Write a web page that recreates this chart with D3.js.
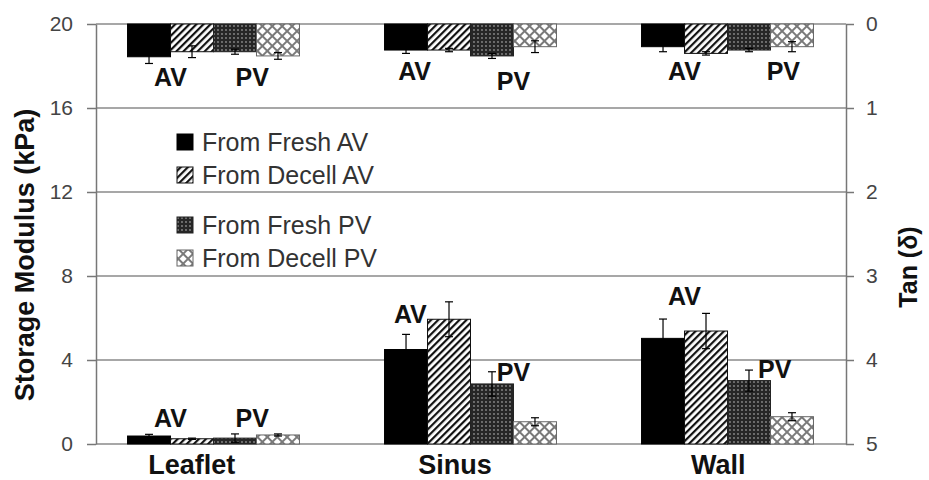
<!DOCTYPE html>
<html>
<head>
<meta charset="utf-8">
<script src="https://cdn.jsdelivr.net/npm/d3@7"></script>
<style>
body { margin: 0; background: #fff; }
svg { font-family: "Liberation Sans", Arial, sans-serif; }
</style>
</head>
<body>
<svg width="929" height="480"></svg>
<script>
var categories = ["Leaflet", "Sinus", "Wall"];
var seriesNames = ["From Fresh AV", "From Decell AV", "From Fresh PV", "From Decell PV"];

// storage modulus (kPa), bottom bars, per category
var modFreshAV = [0.38, 4.50, 5.03];
var modDecellAV = [0.25, 5.94, 5.38];
var modFreshPV = [0.28, 2.86, 3.02];
var modDecellPV = [0.43, 1.06, 1.30];
var modErrFreshAV = [0.08, 0.72, 0.92];
var modErrDecellAV = [0.03, 0.83, 0.84];
var modErrFreshPV = [0.20, 0.58, 0.50];
var modErrDecellPV = [0.05, 0.19, 0.19];

// tan delta, top bars hanging from 0
var tanFreshAV = [0.39, 0.31, 0.27];
var tanDecellAV = [0.33, 0.31, 0.35];
var tanFreshPV = [0.33, 0.38, 0.31];
var tanDecellPV = [0.38, 0.27, 0.27];
var tanErrFreshAV = [0.08, 0.04, 0.06];
var tanErrDecellAV = [0.07, 0.02, 0.02];
var tanErrFreshPV = [0.03, 0.03, 0.02];
var tanErrDecellPV = [0.04, 0.07, 0.06];

var modTicks = [0, 4, 8, 12, 16, 20];
var tanTicks = [0, 1, 2, 3, 4, 5];

// AV / PV labels: [category, text, slot (in bar widths), value]
var tanLabels = [
    ["Leaflet", "AV", 1.0, 0.74], ["Leaflet", "PV", 2.9, 0.74],
    ["Sinus", "AV", 0.7, 0.67], ["Sinus", "PV", 3.0, 0.79],
    ["Wall", "AV", 1.0, 0.67], ["Wall", "PV", 3.3, 0.67]
];
var modLabels = [
    ["Leaflet", "AV", 1.0, 0.81], ["Leaflet", "PV", 2.9, 0.81],
    ["Sinus", "AV", 0.6, 5.76], ["Sinus", "PV", 3.0, 3.0],
    ["Wall", "AV", 1.0, 6.62], ["Wall", "PV", 3.1, 3.14]
];

var modVals = [modFreshAV, modDecellAV, modFreshPV, modDecellPV];
var modErrs = [modErrFreshAV, modErrDecellAV, modErrFreshPV, modErrDecellPV];
var tanVals = [tanFreshAV, tanDecellAV, tanFreshPV, tanDecellPV];
var tanErrs = [tanErrFreshAV, tanErrDecellAV, tanErrFreshPV, tanErrDecellPV];

function buildRows(vals, errs) {
    var rows = [];
    categories.forEach(function(c, ci) {
        seriesNames.forEach(function(s, si) {
            rows.push({cat: c, series: s, si: si, v: vals[si][ci], e: errs[si][ci]});
        });
    });
    return rows;
}

var svg = d3.select("svg");
var plotL = 96, plotR = 846, plotT = 24, plotB = 444;

var x0 = d3.scaleBand().domain(categories).range([85, 856])
    .paddingInner(0.331).paddingOuter(0.1655);
var x1 = d3.scaleBand().domain(seriesNames).range([0, x0.bandwidth()]);
var xLab = d3.scaleBand().domain(categories).range([60, 850]);

var yM = d3.scaleLinear().domain([0, 20]).range([plotB, plotT]);
var yT = d3.scaleLinear().domain([0, 5]).range([plotT, plotB]);

// patterns
var defs = svg.append("defs");
var p = defs.append("pattern").attr("id", "hatch")
    .attr("patternUnits", "userSpaceOnUse").attr("width", 5).attr("height", 5)
    .attr("patternTransform", "rotate(45)");
p.append("rect").attr("width", 5).attr("height", 5).attr("fill", "#fff");
p.append("rect").attr("width", 2.2).attr("height", 5).attr("fill", "#111");

p = defs.append("pattern").attr("id", "dots")
    .attr("patternUnits", "userSpaceOnUse").attr("width", 4).attr("height", 4);
p.append("rect").attr("width", 4).attr("height", 4).attr("fill", "#262626");
p.append("circle").attr("cx", 2).attr("cy", 2).attr("r", 0.9).attr("fill", "#8c8c8c");

p = defs.append("pattern").attr("id", "cross")
    .attr("patternUnits", "userSpaceOnUse").attr("width", 7).attr("height", 7)
    .attr("patternTransform", "rotate(45)");
p.append("rect").attr("width", 7).attr("height", 7).attr("fill", "#fff");
p.append("rect").attr("width", 2).attr("height", 7).attr("fill", "#7a7a7a");
p.append("rect").attr("width", 7).attr("height", 2).attr("fill", "#7a7a7a");

var fills = ["#000", "url(#hatch)", "url(#dots)", "url(#cross)"];
var strokes = ["#000", "#111", "#222", "#666"];

// gridlines
svg.append("g").selectAll("line")
    .data(modTicks)
    .enter()
    .append("line")
    .attr("x1", plotL).attr("x2", plotR)
    .attr("y1", d => yM(d)).attr("y2", d => yM(d))
    .attr("stroke", "#8a8a8a").attr("stroke-width", 1.5);

function drawBars(rows, yScale, hanging) {
    var g = svg.append("g");
    g.selectAll("rect")
        .data(rows)
        .enter()
        .append("rect")
        .attr("x", d => x0(d.cat) + x1(d.series))
        .attr("width", x1.bandwidth())
        .attr("y", d => hanging ? yScale(0) : yScale(d.v))
        .attr("height", d => Math.abs(yScale(d.v) - yScale(0)))
        .attr("fill", d => fills[d.si])
        .attr("stroke", d => strokes[d.si])
        .attr("stroke-width", 1);

    // error bars
    var eg = svg.append("g").attr("stroke", "#000").attr("stroke-width", 1.2);
    rows.forEach(function(d) {
        var cx = x0(d.cat) + x1(d.series) + x1.bandwidth() / 2;
        var a = yScale(d.v - d.e), b = yScale(d.v + d.e);
        eg.append("line").attr("x1", cx).attr("x2", cx).attr("y1", a).attr("y2", b);
        eg.append("line").attr("x1", cx - 4).attr("x2", cx + 4).attr("y1", a).attr("y2", a);
        eg.append("line").attr("x1", cx - 4).attr("x2", cx + 4).attr("y1", b).attr("y2", b);
    });
}

drawBars(buildRows(modVals, modErrs), yM, false);
drawBars(buildRows(tanVals, tanErrs), yT, true);

// AV / PV labels
function drawLabels(list, yScale) {
    svg.append("g").selectAll("text")
        .data(list)
        .enter()
        .append("text")
        .attr("x", d => x0(d[0]) + d[2] * x1.bandwidth())
        .attr("y", d => yScale(d[3]))
        .attr("text-anchor", "middle")
        .attr("font-size", 25).attr("font-weight", "bold").attr("fill", "#111")
        .text(d => d[1]);
}
drawLabels(tanLabels, yT);
drawLabels(modLabels, yM);

// axes
var axL = svg.append("g")
    .attr("transform", `translate(${plotL},0)`)
    .call(d3.axisLeft(yM).tickValues(modTicks).tickSize(9).tickPadding(14).tickSizeOuter(0));
var axR = svg.append("g")
    .attr("transform", `translate(${plotR},0)`)
    .call(d3.axisRight(yT).tickValues(tanTicks).tickFormat(d3.format("d"))
        .tickSize(8).tickPadding(12).tickSizeOuter(0));
[axL, axR].forEach(function(ax) {
    ax.select(".domain").attr("stroke", "#777").attr("stroke-width", 1.5);
    ax.selectAll(".tick line").attr("stroke", "#777").attr("stroke-width", 1.5);
    ax.selectAll(".tick text").attr("font-size", 21).attr("fill", "#444")
        .attr("font-family", "Liberation Sans, Arial, sans-serif");
});

// category labels
var axB = svg.append("g")
    .attr("transform", `translate(0,${plotB})`)
    .call(d3.axisBottom(xLab).tickSize(0).tickPadding(10));
axB.select(".domain").remove();
axB.selectAll(".tick text").attr("font-size", 27).attr("font-weight", "bold")
    .attr("fill", "#111").attr("dy", "0.75em")
    .attr("font-family", "Liberation Sans, Arial, sans-serif");

// axis titles
svg.append("text")
    .attr("transform", "translate(34,255) rotate(-90)")
    .attr("text-anchor", "middle")
    .attr("font-size", 27).attr("font-weight", "bold").attr("fill", "#111")
    .text("Storage Modulus (kPa)");
svg.append("text")
    .attr("transform", "translate(917,267) rotate(-90)")
    .attr("text-anchor", "middle")
    .attr("font-size", 25).attr("font-weight", "bold").attr("fill", "#111")
    .text("Tan (δ)");

// legend
var leg = svg.append("g");
seriesNames.forEach(function(s, i) {
    var cy = 142 + i * 33 + (i >= 2 ? 17 : 0);
    leg.append("rect")
        .attr("x", 177).attr("y", cy - 8).attr("width", 16).attr("height", 16)
        .attr("fill", fills[i]).attr("stroke", strokes[i]).attr("stroke-width", 1);
    leg.append("text")
        .attr("x", 202).attr("y", cy).attr("dy", "0.35em")
        .attr("font-size", 25).attr("fill", "#333")
        .text(s);
});
</script>
</body>
</html>
